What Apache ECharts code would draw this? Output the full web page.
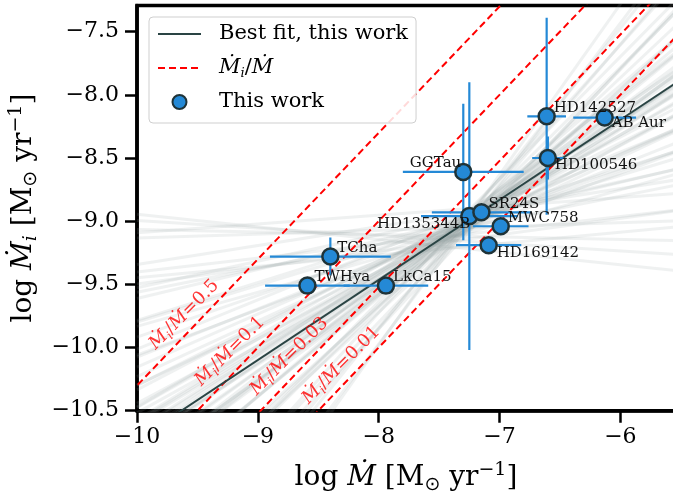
<!DOCTYPE html>
<html>
<head>
<meta charset="utf-8">
<script src="https://cdn.jsdelivr.net/npm/echarts@6/dist/echarts.min.js"></script>
<style>
html, body { margin: 0; padding: 0; background: #fff; }
#chart { width: 673px; height: 496px; }
</style>
</head>
<body>
<div id="chart"></div>
<script>
// sources
const names = ['HD142527', 'AB Aur', 'HD100546', 'GGTau', 'HD135344B', 'SR24S', 'MWC758', 'HD169142', 'TCha', 'TWHya', 'LkCa15'];
const logMdot = [-6.61, -6.13, -6.60, -7.30, -7.25, -7.15, -6.99, -7.09, -8.40, -8.59, -7.94];
const logMdotErr = [0.16, 0.26, 0.13, 0.50, 0.40, 0.41, 0.23, 0.27, 0.50, 0.35, 0.35];
const logMi = [-8.17, -8.18, -8.50, -8.61, -8.96, -8.93, -9.04, -9.19, -9.28, -9.51, -9.51];
const logMiErr = [0.78, 0, 0.17, 0.54, 1.06, 0, 0, 0, 0.15, 0, 0];

// best fit and posterior samples (slope, value at log Mdot = -7.25)
const bestSlope = 0.634;
const bestIntercept = -4.393;
const fanPivot = -7.25;
const fanSlope = [0.63, 0.60, 0.66, 0.57, 0.69, 0.54, 0.72, 0.51, 0.75, 0.48, 0.78, 0.45, 0.82, 0.42, 0.86, 0.39, 0.90, 0.36, 0.95, 0.33, 1.00, 0.30, 1.06, 0.27, 1.12, 0.23, 1.19, 0.19, 1.27, 0.15, 0.11, 0.07, 0.03, -0.02, 0.62, 0.65, 0.59, 0.68, 0.56, 0.71, 0.53, 0.74, 0.50, 0.80, 0.44, 0.88, 0.38, 0.97, 0.29, 1.03, 0.21, 0.13, 1.35, 0.09, -0.06, -0.10, 0.64, 0.61, 0.67, 0.58, 0.70];
const fanAtPivot = [-8.99, -9.01, -8.97, -9.03, -8.98, -8.99, -9.00, -9.04, -8.96, -8.98, -9.02, -9.06, -8.95, -9.00, -9.03, -8.94, -8.99, -9.07, -8.97, -9.01, -9.05, -8.96, -8.93, -9.09, -9.00, -8.98, -8.96, -9.04, -9.02, -8.93, -9.10, -8.90, -9.05, -9.12, -9.05, -8.92, -8.95, -9.07, -8.93, -9.05, -9.06, -8.93, -8.96, -8.99, -9.02, -9.06, -9.03, -8.91, -9.00, -9.08, -8.95, -9.14, -8.97, -9.20, -9.16, -9.22, -9.00, -8.97, -9.01, -8.99, -9.03];

// constant Mi/Mdot ratios
const ratios = [0.5, 0.1, 0.03, 0.01];
const ratioText = ['0.5', '0.1', '0.03', '0.01'];

const xTicks = [-10, -9, -8, -7, -6];
const yTicks = [-10.5, -10.0, -9.5, -9.0, -8.5, -8.0, -7.5];
const xMin = -10, xMax = -5.548;
const yMin = -10.5, yMax = -7.293;

// where the ratio annotations sit (data coords)
const ratioLabelAt = [[-9.61, -9.74], [-9.23, -10.03], [-8.74, -10.07], [-8.31, -10.14]];
// label placement for each source
const labelPlace = {
  'GGTau': { align: 'right', offset: [-2, -9] },
  'HD135344B': { align: 'right', offset: [1, 8] },
  'AB Aur': { align: 'left', offset: [7, 6] },
  'HD100546': { align: 'left', offset: [7, 7] },
  'HD169142': { align: 'left', offset: [8, 8] }
};

const serif = "'DejaVu Serif', serif";
const blue = '#2489d6';
const edge = '#1f3338';
const fitColor = '#2a4444';
const clear = 'rgba(0,0,0,0)';
const minus = s => String(s).replace('-', '\u2212');

const series = [];

fanSlope.forEach((s, i) => {
  const b = fanAtPivot[i] - s * fanPivot;
  series.push({
    name: 'sample' + i,
    type: 'line',
    silent: true,
    symbol: 'none',
    z: 1,
    lineStyle: { color: 'rgba(145,160,160,0.15)', width: 3 },
    data: [[xMin, s * xMin + b], [xMax, s * xMax + b]]
  });
});

ratios.forEach((r, i) => {
  const off = Math.log10(r);
  series.push({
    name: 'ratio',
    type: 'line',
    symbol: 'none',
    z: 3,
    itemStyle: { color: clear, borderColor: clear },
    lineStyle: { color: '#ff0000', width: 2, type: [7, 4] },
    data: [[xMin - 1, xMin - 1 + off], [xMax + 1, xMax + 1 + off]]
  });
});

series.push({
  name: 'Best fit, this work',
  type: 'line',
  symbol: 'none',
  z: 4,
  itemStyle: { color: clear, borderColor: clear },
  lineStyle: { color: fitColor, width: 2 },
  data: [[xMin, bestSlope * xMin + bestIntercept], [xMax, bestSlope * xMax + bestIntercept]]
});

// ratio annotations
series.push({
  name: 'ratioLabels',
  type: 'scatter',
  silent: true,
  symbolSize: 0,
  z: 5,
  label: {
    show: true,
    position: 'inside',
    rotate: 45,
    color: '#ff0000',
    formatter: p => '{m|Ṁ}{s|i}{n|/}{m|Ṁ}{n|=' + ratioText[p.dataIndex] + '}',
    rich: {
      m: { fontFamily: serif, fontStyle: 'italic', fontSize: 18, color: '#ff0000', lineHeight: 23 },
      s: { fontFamily: serif, fontStyle: 'italic', fontSize: 12, color: '#ff0000', lineHeight: 12, verticalAlign: 'bottom' },
      n: { fontFamily: serif, fontSize: 18, color: '#ff0000', lineHeight: 23 }
    }
  },
  data: ratioLabelAt
});

// error bars
series.push({
  name: 'errors',
  type: 'custom',
  silent: true,
  z: 6,
  clip: true,
  renderItem: (params, api) => {
    const x = api.value(0), y = api.value(1), ex = api.value(2), ey = api.value(3);
    const children = [];
    const style = { stroke: blue, lineWidth: 2.2 };
    if (ex > 0) {
      const a = api.coord([x - ex, y]), b = api.coord([x + ex, y]);
      children.push({ type: 'line', shape: { x1: a[0], y1: a[1], x2: b[0], y2: b[1] }, style });
    }
    if (ey > 0) {
      const a = api.coord([x, y - ey]), b = api.coord([x, y + ey]);
      children.push({ type: 'line', shape: { x1: a[0], y1: a[1], x2: b[0], y2: b[1] }, style });
    }
    return { type: 'group', children };
  },
  data: names.map((n, i) => [logMdot[i], logMi[i], logMdotErr[i], logMiErr[i]])
});

series.push({
  name: 'This work',
  type: 'scatter',
  z: 7,
  symbolSize: 16,
  itemStyle: { color: blue, borderColor: edge, borderWidth: 2.5, opacity: 1 },
  label: {
    show: true,
    position: 'inside',
    align: 'left',
    verticalAlign: 'middle',
    offset: [7, -8.5],
    fontFamily: serif,
    fontSize: 15,
    color: '#111',
    formatter: p => p.name
  },
  data: names.map((n, i) => {
    const item = { name: n, value: [logMdot[i], logMi[i]] };
    if (labelPlace[n]) item.label = labelPlace[n];
    return item;
  })
});

const axisRich = {
  t: { fontFamily: serif, fontSize: 28, color: '#000', lineHeight: 34 },
  i: { fontFamily: serif, fontSize: 28, fontStyle: 'italic', color: '#000', lineHeight: 34 },
  s: { fontFamily: serif, fontSize: 19, fontStyle: 'italic', color: '#000', lineHeight: 19, verticalAlign: 'bottom' },
  o: { fontFamily: "'DejaVu Sans', sans-serif", fontSize: 19, color: '#000', lineHeight: 19, verticalAlign: 'bottom' },
  p: { fontFamily: serif, fontSize: 19, color: '#000', lineHeight: 19, verticalAlign: 'top' }
};

const chart = echarts.init(document.getElementById('chart'));
chart.setOption({
  animation: false,
  backgroundColor: '#fff',
  grid: {
    left: 137, right: -2, top: 5.5, bottom: 85.3,
    show: true, borderColor: '#000', borderWidth: 3.5,
    outerBoundsMode: 'none'
  },
  legend: {
    left: 149, top: 17,
    orient: 'vertical',
    data: ['Best fit, this work', 'ratio', 'This work'],
    itemWidth: 43, itemHeight: 14, itemGap: 10,
    padding: [5, 8, 9, 8],
    backgroundColor: 'rgba(255,255,255,0.85)',
    borderColor: '#cfcfcf', borderWidth: 1, borderRadius: 4,
    textStyle: {
      fontFamily: serif, fontSize: 21, color: '#000', padding: [0, 0, 0, 13], lineHeight: 24,
      rich: {
        m: { fontFamily: serif, fontStyle: 'italic', fontSize: 21, lineHeight: 24 },
        s: { fontFamily: serif, fontStyle: 'italic', fontSize: 13, lineHeight: 13, verticalAlign: 'bottom' },
        n: { fontFamily: serif, fontSize: 21, lineHeight: 24 }
      }
    },
    formatter: n => n === 'ratio' ? '{m|Ṁ}{s|i}{n|/}{m|Ṁ}' : n
  },
  xAxis: {
    type: 'value',
    min: xMin, max: xMax,
    axisLine: { lineStyle: { color: '#000', width: 3.5 } },
    axisTick: { customValues: xTicks, length: 12, lineStyle: { color: '#000', width: 2.5 } },
    axisLabel: { customValues: xTicks, formatter: v => minus(v), fontFamily: serif, fontSize: 22, color: '#000', margin: 16 },
    splitLine: { show: false },
    name: '{t|log }{i|Ṁ}{t| [M}{o|⊙}{t| yr}{p|−1}{t|]}',
    nameLocation: 'middle',
    nameGap: 50,
    nameTextStyle: { rich: axisRich }
  },
  yAxis: {
    type: 'value',
    min: yMin, max: yMax,
    axisLine: { lineStyle: { color: '#000', width: 3.5 } },
    axisTick: { customValues: yTicks, length: 12, lineStyle: { color: '#000', width: 2.5 } },
    axisLabel: { customValues: yTicks, formatter: v => minus(v.toFixed(1)), fontFamily: serif, fontSize: 22, color: '#000', margin: 18 },
    splitLine: { show: false },
    name: '{t|log }{i|Ṁ}{s|i}{t| [M}{o|⊙}{t| yr}{p|−1}{t|]}',
    nameLocation: 'middle',
    nameGap: 90,
    nameTextStyle: { rich: axisRich }
  },
  series
});
</script>
</body>
</html>
